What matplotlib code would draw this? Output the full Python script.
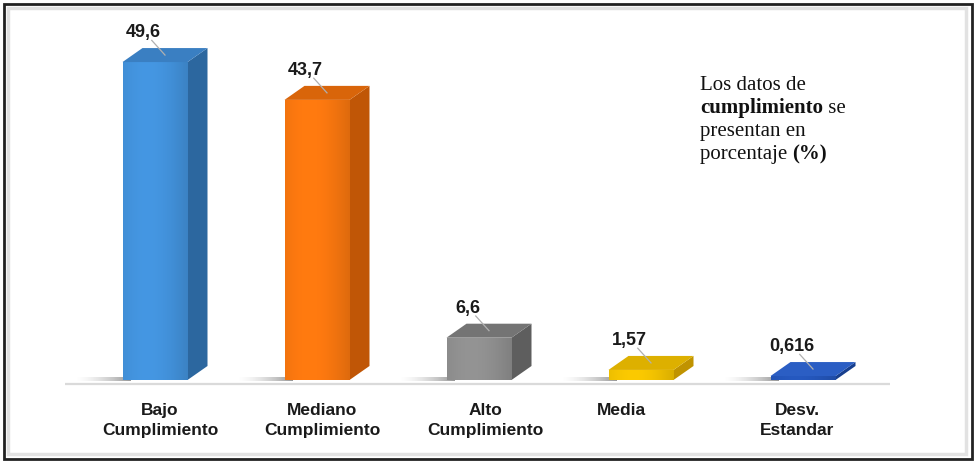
import matplotlib
matplotlib.use("Agg")
import matplotlib.pyplot as plt
import numpy as np
from matplotlib.patches import Polygon, Rectangle
from matplotlib.colors import to_rgb

categories = ["Bajo\nCumplimiento", "Mediano\nCumplimiento", "Alto\nCumplimiento",
              "Media", "Desv.\nEstandar"]
values = [49.6, 43.7, 6.6, 1.57, 0.616]
value_labels = ["49,6", "43,7", "6,6", "1,57", "0,616"]
front_colors = ["#4291DA", "#F7760F", "#8E8E8E", "#F2C200", "#2455B8"]
side_colors = ["#2C679F", "#C05606", "#5E5E5E", "#C09300", "#173F8E"]
top_colors = ["#3A7FC2", "#D9650A", "#747474", "#DDB000", "#2B5EC4"]

W, H = 976, 462
fig = plt.figure(figsize=(W / 100, H / 100), dpi=100)
fig.patch.set_facecolor("white")

# axes placed in pixels: left 65, right 890, bottom 386, top 20
px_left, px_right, px_bottom, px_top = 65, 890, 386, 20
ax = fig.add_axes([px_left / W, 1 - px_bottom / H,
                   (px_right - px_left) / W, (px_bottom - px_top) / H])
ppu_x = 162.0   # pixels per category
ppu_y = 6.41    # pixels per value unit
x0 = (px_left - 155) / ppu_x
ax.set_xlim(x0, x0 + (px_right - px_left) / ppu_x)
y_bot = -6 / ppu_y
ax.set_ylim(y_bot, y_bot + (px_bottom - px_top) / ppu_y)
ax.axis("off")

x = np.arange(len(values))
width = 65 / ppu_x
dx = 20 / ppu_x
dy = 14 / ppu_y

# baseline
ax.plot([ax.get_xlim()[0], ax.get_xlim()[1]], [y_bot + 0.3, y_bot + 0.3],
        color="#DADADA", lw=1.6, zorder=1)

bars = ax.bar(x, values, width=width, color=front_colors, zorder=3, linewidth=0)

shadow_rgba = np.zeros((1, 64, 4))
shadow_rgba[..., :3] = 0.35
shadow_rgba[0, :, 3] = np.linspace(0, 0.75, 64) ** 1.6

for i, b in enumerate(bars):
    left = b.get_x()
    right = left + b.get_width()
    top = b.get_height()
    # soft shadow on the floor, falling to the left
    ax.imshow(shadow_rgba, extent=(left - 0.30, left + 0.05, -0.1, 0.45),
              aspect="auto", zorder=2, interpolation="bilinear")
    # horizontal gradient on the front face
    base = np.array(to_rgb(front_colors[i]))
    t = np.linspace(0, 1, 64)
    shade = 0.9 + 0.14 * np.sin(np.pi * (0.2 + 0.8 * t))
    grad = np.clip(base[None, :] * shade[:, None], 0, 1)[None, :, :]
    im = ax.imshow(grad, extent=(left, right, 0, top), aspect="auto",
                   zorder=3.5, interpolation="bilinear")
    im.set_clip_path(b)
    # side face
    side = Polygon([(right, 0), (right + dx, dy), (right + dx, top + dy), (right, top)],
                   closed=True, facecolor=side_colors[i], lw=0, zorder=3)
    ax.add_patch(side)
    # top face
    tp = Polygon([(left, top), (left + dx, top + dy), (right + dx, top + dy), (right, top)],
                 closed=True, facecolor=top_colors[i], lw=0, zorder=4)
    ax.add_patch(tp)
    # leader line and value label
    cx = (left + right) / 2
    ax.plot([cx + dx / 2, cx - 0.02], [top + dy / 2, top + dy + 1.2],
            color="#B0B0B0", lw=0.9, zorder=5)
    ax.text(cx - 0.07, top + dy + 1.1, value_labels[i], ha="center", va="bottom",
            fontsize=13, fontweight="bold", family="Liberation Sans",
            color="#1A1A1A", zorder=6)

# category labels
cat_x = [160, 322, 485, 621, 797]
for i, c in enumerate(categories):
    fig.text(cat_x[i] / W, 1 - 403 / H, c, ha="center", va="top",
             fontsize=12.5, fontweight="bold", family="Liberation Sans",
             color="#1A1A1A", linespacing=1.45)

# note text, with the bold words placed right after the plain ones
note_kw = dict(fontsize=15, family="Liberation Serif", color="#111111",
               ha="left", va="baseline")
note_base = [90, 113, 136, 159]
fig.canvas.draw()
renderer = fig.canvas.get_renderer()


def note_line(parts, y_px):
    xp = 700
    for txt, bold in parts:
        t = fig.text(xp / W, 1 - y_px / H, txt,
                     fontweight="bold" if bold else "normal", **note_kw)
        xp = t.get_window_extent(renderer).x1


note_line([("Los datos de", False)], note_base[0])
note_line([("cumplimiento", True), (" se", False)], note_base[1])
note_line([("presentan en", False)], note_base[2])
note_line([("porcentaje ", False), ("(%)", True)], note_base[3])

# frame around the picture
fig.add_artist(Rectangle((8 / W, 8 / H), (W - 18) / W, (H - 16) / H,
                         transform=fig.transFigure, fill=False,
                         edgecolor="#E2E2E2", lw=2.5))
fig.add_artist(Rectangle((4 / W, 3 / H), (W - 8) / W, (H - 7) / H,
                         transform=fig.transFigure, fill=False,
                         edgecolor="#222222", lw=2))

fig.savefig("out.png", dpi=100, facecolor="white")
